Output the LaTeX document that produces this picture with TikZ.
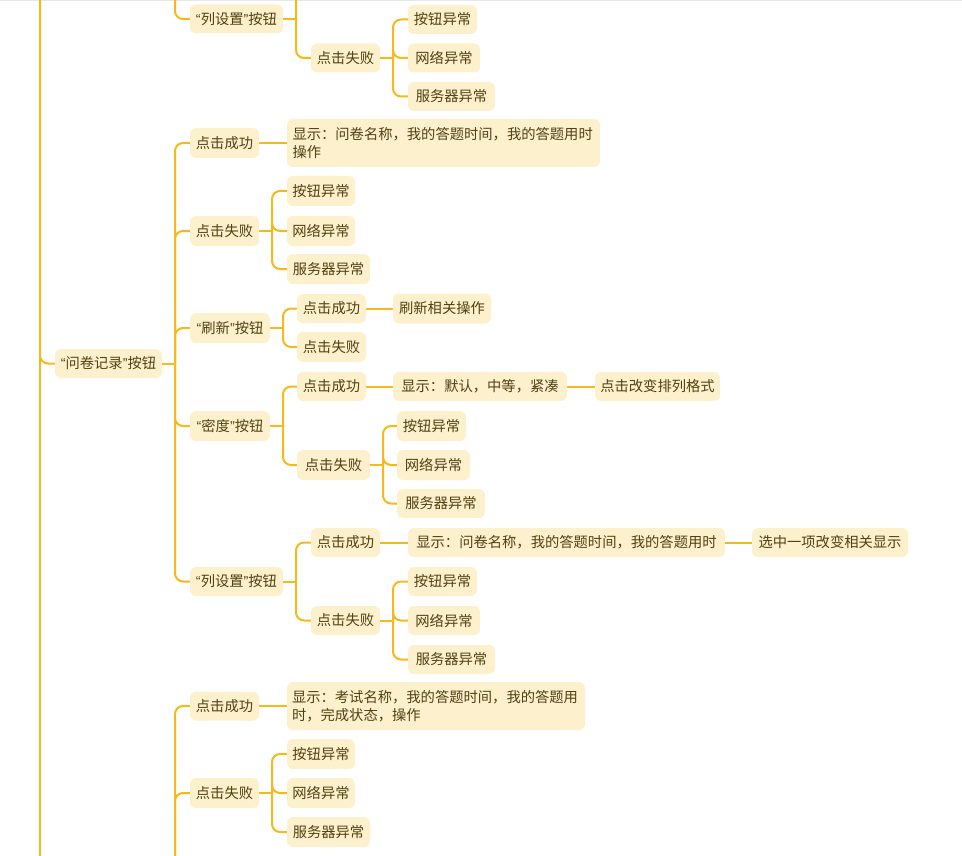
\documentclass[tikz,border=0pt]{standalone}
\usepackage{fontspec}
\newfontfamily\cjk{Noto Sans CJK SC}
\newfontfamily\qf{Liberation Sans}
\definecolor{linec}{RGB}{245,186,25}
\definecolor{boxc}{RGB}{252,240,205}
\definecolor{txtc}{RGB}{82,64,16}
\newcommand{\myoq}{{\qf “}}
\newcommand{\mycq}{{\qf ”}}
\tikzset{
  mm/.style={fill=boxc, rounded corners=6pt, text=txtc,
    font=\cjk\fontsize{14.3pt}{17.5pt}\selectfont, inner sep=0pt,
    minimum height=29pt, anchor=center},
  conn/.style={draw=linec, line width=2pt, rounded corners=8pt},
}
\begin{document}
\begin{tikzpicture}[x=1pt,y=-1pt]
\useasboundingbox (0,0) rectangle (962,856);
\clip (0,0) rectangle (962,856);
\fill[gray!18] (0,0) rectangle (962,1.5);

% ---------- top group (partly off-screen) ----------
\node[mm, minimum width=93pt] (lsA) at (236.5,19) {\myoq{}列设置\mycq{}按钮};
\node[mm, minimum width=69pt] (f0) at (345.5,58) {点击失败};
\node[mm, minimum width=69pt] (e01) at (442.5,19.5) {按钮异常};
\node[mm, minimum width=72pt] (e02) at (444,58) {网络异常};
\node[mm, minimum width=87pt] (e03) at (451.5,96.5) {服务器异常};

% ---------- main group ----------
\node[mm, minimum width=107pt] (qj) at (108.5,363.5) {\myoq{}问卷记录\mycq{}按钮};

\node[mm, minimum width=69pt, minimum height=30pt] (s1) at (224.5,143) {点击成功};
\node[mm, minimum width=313pt, minimum height=48pt, align=left, text width=302pt] (s1d) at (443.5,143)
  {显示：问卷名称，我的答题时间，我的答题用时\\操作};

\node[mm, minimum width=69pt, minimum height=30pt] (f1) at (224.5,231) {点击失败};
\node[mm, minimum width=68pt, minimum height=30pt] (f1a) at (321,191) {按钮异常};
\node[mm, minimum width=68pt, minimum height=30pt] (f1b) at (321,231) {网络异常};
\node[mm, minimum width=83pt, minimum height=30pt] (f1c) at (328.5,269) {服务器异常};

\node[mm, minimum width=80pt, minimum height=30pt] (r) at (230,328) {\myoq{}刷新\mycq{}按钮};
\node[mm, minimum width=69pt] (rs) at (331.5,308.5) {点击成功};
\node[mm, minimum width=98pt, minimum height=30pt] (rsd) at (442,308.5) {刷新相关操作};
\node[mm, minimum width=69pt, minimum height=30pt] (rf) at (331.5,347) {点击失败};

\node[mm, minimum width=80pt, minimum height=30pt] (m) at (230,426) {\myoq{}密度\mycq{}按钮};
\node[mm, minimum width=69pt] (ms) at (331.5,386.5) {点击成功};
\node[mm, minimum width=174pt] (msd) at (480,386.5) {显示：默认，中等，紧凑};
\node[mm, minimum width=125pt] (mse) at (657.5,386.5) {点击改变排列格式};
\node[mm, minimum width=73pt, minimum height=30pt] (mf) at (333.5,465) {点击失败};
\node[mm, minimum width=69pt, minimum height=30pt] (mfa) at (431.5,426) {按钮异常};
\node[mm, minimum width=73pt, minimum height=30pt] (mfb) at (433.5,465) {网络异常};
\node[mm, minimum width=88pt] (mfc) at (441,503.5) {服务器异常};

\node[mm, minimum width=93pt] (l) at (236.5,581.5) {\myoq{}列设置\mycq{}按钮};
\node[mm, minimum width=69pt] (ls) at (345.5,542.5) {点击成功};
\node[mm, minimum width=317pt] (lsd) at (566.5,542.5) {显示：问卷名称，我的答题时间，我的答题用时};
\node[mm, minimum width=156pt] (lse) at (830,542.5) {选中一项改变相关显示};
\node[mm, minimum width=69pt] (lf) at (345.5,620.5) {点击失败};
\node[mm, minimum width=69pt] (lfa) at (442.5,581.5) {按钮异常};
\node[mm, minimum width=72pt] (lfb) at (444,620.5) {网络异常};
\node[mm, minimum width=87pt] (lfc) at (451.5,659.5) {服务器异常};

% ---------- bottom group ----------
\node[mm, minimum width=69pt] (bs) at (224.5,706) {点击成功};
\node[mm, minimum width=298pt, minimum height=48pt, align=left, text width=288pt] (bsd) at (436,706)
  {显示：考试名称，我的答题时间，我的答题用\\时，完成状态，操作};
\node[mm, minimum width=69pt, minimum height=30pt] (bf) at (224.5,793) {点击失败};
\node[mm, minimum width=68pt, minimum height=30pt] (bfa) at (321,754) {按钮异常};
\node[mm, minimum width=68pt, minimum height=30pt] (bfb) at (321,793) {网络异常};
\node[mm, minimum width=83pt, minimum height=30pt] (bfc) at (328.5,832) {服务器异常};

% ---------- coordinates ----------
\coordinate (rt) at (40,-5);
\coordinate (rb) at (40,861);
\coordinate (tA) at (175,-5);
\coordinate (bTt) at (296,-5);
\coordinate (bT) at (296,19);
\coordinate (b0) at (393,58);
\coordinate (bq) at (175,363.5);
\coordinate (b1) at (272,231);
\coordinate (b2) at (283,328);
\coordinate (b3) at (283,426);
\coordinate (b4) at (383,465);
\coordinate (b5) at (296,581.5);
\coordinate (b6) at (393,620.5);
\coordinate (bB) at (175,861);
\coordinate (b7) at (272,793);

% ---------- connectors ----------
\draw[conn] (rt) -- (rb);
\draw[conn] (rt) |- (qj.west);

\draw[conn] (tA) |- (lsA.west);
\draw[conn] (lsA.east) -- (bT);
\draw[conn] (bTt) |- (f0.west);
\draw[conn] (f0.east) -- (b0);
\foreach \c in {e01,e02,e03} \draw[conn] (b0) |- (\c.west);

\draw[conn] (qj.east) -- (bq);
\foreach \c in {s1,f1,r,m,l} \draw[conn] (bq) |- (\c.west);
\draw[conn] (s1) -- (s1d);
\draw[conn] (f1.east) -- (b1);
\foreach \c in {f1a,f1b,f1c} \draw[conn] (b1) |- (\c.west);
\draw[conn] (r.east) -- (b2);
\foreach \c in {rs,rf} \draw[conn] (b2) |- (\c.west);
\draw[conn] (rs) -- (rsd);
\draw[conn] (m.east) -- (b3);
\foreach \c in {ms,mf} \draw[conn] (b3) |- (\c.west);
\draw[conn] (ms) -- (msd);
\draw[conn] (msd) -- (mse);
\draw[conn] (mf.east) -- (b4);
\foreach \c in {mfa,mfb,mfc} \draw[conn] (b4) |- (\c.west);
\draw[conn] (l.east) -- (b5);
\foreach \c in {ls,lf} \draw[conn] (b5) |- (\c.west);
\draw[conn] (ls) -- (lsd);
\draw[conn] (lsd) -- (lse);
\draw[conn] (lf.east) -- (b6);
\foreach \c in {lfa,lfb,lfc} \draw[conn] (b6) |- (\c.west);

\draw[conn] (bB) |- (bs.west);
\draw[conn] (bB) |- (bf.west);
\draw[conn] (bs) -- (bsd);
\draw[conn] (bf.east) -- (b7);
\foreach \c in {bfa,bfb,bfc} \draw[conn] (b7) |- (\c.west);
\end{tikzpicture}
\end{document}
